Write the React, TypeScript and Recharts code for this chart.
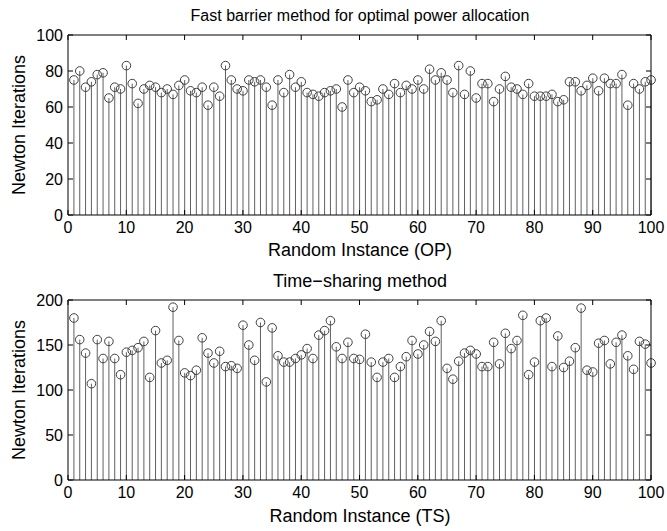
import { ComposedChart, Bar, XAxis, YAxis } from 'recharts';

// instance numbers 1..100
const instances = Array.from({ length: 100 }, (_, i) => i + 1);

const opIterations = [
  75, 80, 71, 74, 78, 79, 65, 71, 70, 83,
  73, 62, 70, 72, 71, 68, 70, 67, 72, 75,
  69, 68, 71, 61, 71, 66, 83, 75, 70, 69,
  75, 74, 75, 71, 61, 75, 68, 78, 71, 74,
  68, 67, 66, 68, 69, 70, 60, 75, 68, 71,
  69, 63, 64, 70, 67, 73, 68, 72, 70, 75,
  70, 81, 75, 79, 75, 68, 83, 67, 80, 65,
  73, 73, 63, 70, 77, 71, 70, 67, 73, 66,
  66, 66, 67, 63, 64, 74, 74, 69, 72, 76,
  69, 76, 73, 73, 78, 61, 73, 70, 74, 75,
];

const tsIterations = [
  180, 156, 141, 107, 156, 135, 154, 135, 117, 142,
  144, 147, 154, 114, 166, 130, 133, 192, 155, 119,
  116, 122, 158, 141, 130, 143, 126, 127, 124, 172,
  150, 133, 175, 109, 169, 138, 131, 131, 135, 139,
  146, 135, 161, 166, 177, 148, 135, 153, 135, 134,
  162, 131, 114, 131, 135, 114, 126, 137, 155, 140,
  150, 165, 154, 177, 124, 112, 132, 141, 144, 140,
  126, 126, 153, 129, 163, 146, 155, 183, 117, 131,
  177, 180, 126, 160, 125, 132, 147, 191, 122, 120,
  152, 155, 129, 153, 161, 138, 123, 154, 151, 130,
];

const instanceTicks = [0, 10, 20, 30, 40, 50, 60, 70, 80, 90, 100];
const opTicks = [0, 20, 40, 60, 80, 100];
const tsTicks = [0, 50, 100, 150, 200];

const FONT = '"Liberation Sans", Arial, Helvetica, sans-serif';
const TICK_LEN = 5;
const LABEL_GAP = 5;

const opData = instances.map((x, i) => ({ x, v: opIterations[i] }));
const tsData = instances.map((x, i) => ({ x, v: tsIterations[i] }));

function Stem(props: any) {
  const { x, y, width, height } = props;
  if (x == null || y == null) return null;
  const cx = x + width / 2;
  return (
    <g>
      <line x1={cx} x2={cx} y1={y} y2={y + height} stroke="#606060" strokeWidth={1} />
      <circle cx={cx} cy={y} r={4.3} fill="none" stroke="#404040" strokeWidth={1} />
    </g>
  );
}

// label sits LABEL_GAP below the axis line; tick mark points inward (up)
function BottomTick(props: any) {
  const { x, y, payload } = props;
  const axisY = y - LABEL_GAP;
  return (
    <g>
      <line x1={x} x2={x} y1={axisY} y2={axisY - TICK_LEN} stroke="#000" />
      <text x={x} y={y} dy="0.8em" textAnchor="middle" fontSize={16} fontFamily={FONT} fill="#000">
        {payload.value}
      </text>
    </g>
  );
}

function LeftTick(props: any) {
  const { x, y, payload } = props;
  const axisX = x + LABEL_GAP;
  return (
    <g>
      <line x1={axisX} x2={axisX + TICK_LEN} y1={y} y2={y} stroke="#000" />
      <text x={x} y={y} dy="0.36em" textAnchor="end" fontSize={16} fontFamily={FONT} fill="#000">
        {payload.value}
      </text>
    </g>
  );
}

function TopTick(props: any) {
  const { x, y } = props;
  return <line x1={x} x2={x} y1={y} y2={y + TICK_LEN} stroke="#000" />;
}

function RightTick(props: any) {
  const { x, y } = props;
  return <line x1={x} x2={x - TICK_LEN} y1={y} y2={y} stroke="#000" />;
}

function StemPanel({ data, ticks, yMax }: { data: any[]; ticks: number[]; yMax: number }) {
  return (
    <ComposedChart width={667} height={265} data={data} margin={{ top: 34, right: 15, bottom: 49, left: 67 }}>
      <XAxis
        xAxisId="b"
        dataKey="x"
        type="number"
        domain={[0, 100]}
        ticks={instanceTicks}
        interval={0}
        height={1}
        tickSize={0}
        tickMargin={LABEL_GAP}
        tickLine={false}
        axisLine={{ stroke: '#000' }}
        tick={<BottomTick />}
      />
      <XAxis
        xAxisId="t"
        orientation="top"
        dataKey="x"
        type="number"
        domain={[0, 100]}
        allowDataOverflow
        ticks={instanceTicks}
        interval={0}
        height={1}
        tickSize={0}
        tickMargin={0}
        tickLine={false}
        axisLine={{ stroke: '#000' }}
        tick={<TopTick />}
      />
      <YAxis
        yAxisId="l"
        type="number"
        domain={[0, yMax]}
        ticks={ticks}
        interval={0}
        width={1}
        tickSize={0}
        tickMargin={LABEL_GAP}
        tickLine={false}
        axisLine={{ stroke: '#000' }}
        tick={<LeftTick />}
      />
      <YAxis
        yAxisId="r"
        orientation="right"
        type="number"
        domain={[0, yMax]}
        allowDataOverflow
        ticks={ticks}
        interval={0}
        width={1}
        tickSize={0}
        tickMargin={0}
        tickLine={false}
        axisLine={{ stroke: '#000' }}
        tick={<RightTick />}
      />
      <Bar xAxisId="b" yAxisId="l" dataKey="v" barSize={2} shape={<Stem />} isAnimationActive={false} />
    </ComposedChart>
  );
}

const textStyle: React.CSSProperties = {
  position: 'absolute',
  fontFamily: FONT,
  color: '#000',
  whiteSpace: 'nowrap',
  transform: 'translate(-50%, -50%)',
};

export default function App() {
  return (
    <div style={{ position: 'absolute', left: 0, top: 0, width: 667, height: 531, background: '#fff', overflow: 'hidden' }}>
      <div style={{ position: 'absolute', left: 0, top: 0 }}>
        <StemPanel data={opData} ticks={opTicks} yMax={100} />
      </div>
      <div style={{ position: 'absolute', left: 0, top: 265 }}>
        <StemPanel data={tsData} ticks={tsTicks} yMax={200} />
      </div>

      <div style={{ ...textStyle, left: 360, top: 16, fontSize: 16 }}>Fast barrier method for optimal power allocation</div>
      <div style={{ ...textStyle, left: 360, top: 250, fontSize: 18 }}>Random Instance (OP)</div>
      <div style={{ ...textStyle, left: 19, top: 125, fontSize: 18, transform: 'translate(-50%, -50%) rotate(-90deg)' }}>
        Newton Iterations
      </div>

      <div style={{ ...textStyle, left: 360, top: 281, fontSize: 18 }}>Time−sharing method</div>
      <div style={{ ...textStyle, left: 360, top: 516, fontSize: 18 }}>Random Instance (TS)</div>
      <div style={{ ...textStyle, left: 19, top: 390, fontSize: 18, transform: 'translate(-50%, -50%) rotate(-90deg)' }}>
        Newton Iterations
      </div>
    </div>
  );
}
